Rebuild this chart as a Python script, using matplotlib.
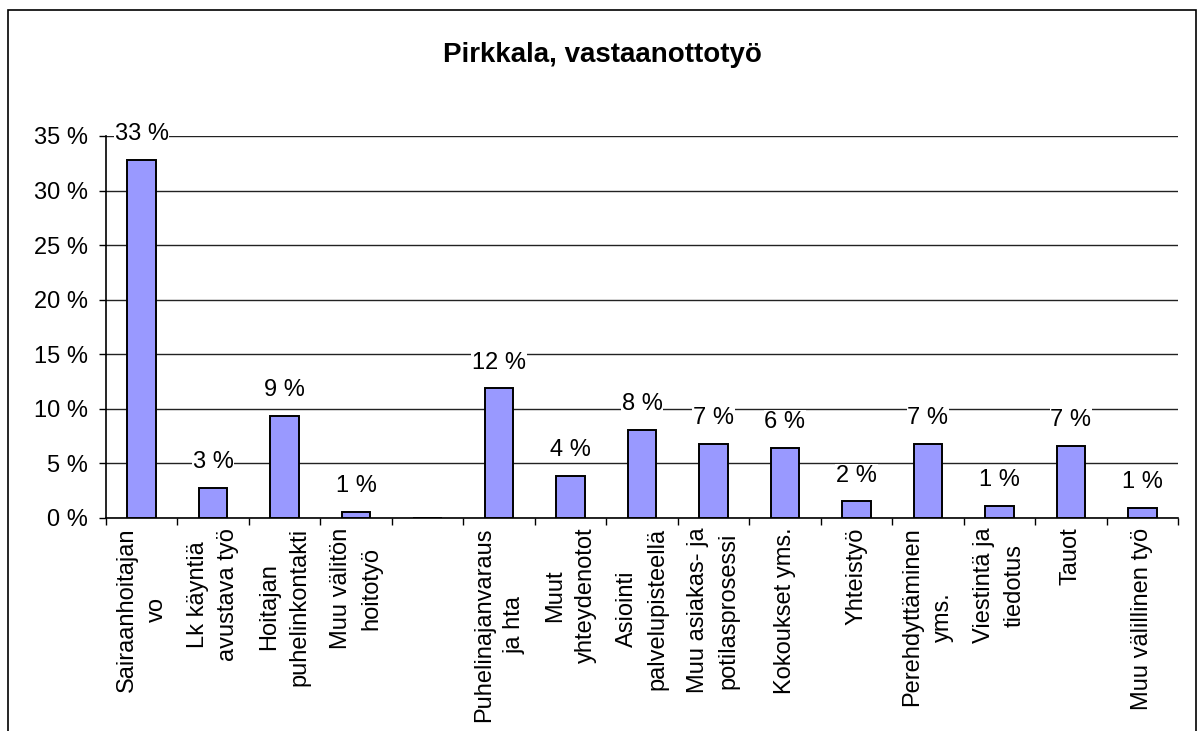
import numpy as np
import matplotlib
matplotlib.use("Agg")
import matplotlib.pyplot as plt
from matplotlib.patches import Rectangle

plt.rcParams['font.family'] = ['Liberation Sans', 'DejaVu Sans']

title = "Pirkkala, vastaanottotyö"
categories = ["Sairaanhoitajan\nvo", "Lk käyntiä\navustava työ", "Hoitajan\npuhelinkontakti",
              "Muu välitön\nhoitotyö", "", "Puhelinajanvaraus\nja hta", "Muut\nyhteydenotot",
              "Asiointi\npalvelupisteellä", "Muu asiakas- ja\npotilasprosessi", "Kokoukset yms.",
              "Yhteistyö", "Perehdyttäminen\nyms.", "Viestintä ja\ntiedotus", "Tauot",
              "Muu välillinen työ"]
values = [32.8, 2.75, 9.38, 0.55, np.nan, 11.9, 3.88, 8.1, 6.79, 6.45, 1.52, 6.79, 1.1, 6.63, 0.92]
yticks = [0, 5, 10, 15, 20, 25, 30, 35]

W, H = 1204, 731
fig = plt.figure(figsize=(W / 100, H / 100), dpi=100)
ax = fig.add_axes([106 / W, (H - 518) / H, (1178 - 106) / W, (518 - 136) / H])

x = np.arange(len(categories))
vals = np.array(values, dtype=float)
ax.bar(x, np.nan_to_num(vals), width=0.4, color='#9999FF', edgecolor='black', linewidth=1.4, zorder=3)

for xi, v in zip(x, vals):
    if np.isnan(v):
        continue
    ax.annotate(f"{v:.0f} %", (xi, v), xytext=(0, 10.5), textcoords='offset points',
                ha='center', va='bottom', fontsize=17, zorder=5,
                bbox=dict(facecolor='white', edgecolor='none', pad=0.5))

ax.set_xlim(-0.5, len(categories) - 0.5)
ax.set_ylim(0, 35)
ax.set_yticks(yticks)
ax.set_yticklabels([f"{t} %" for t in yticks], fontsize=17)
ax.yaxis.grid(True, color='#222222', linewidth=1, zorder=0)
ax.set_axisbelow(True)

ax.set_xticks(x)
ax.set_xticklabels(categories, rotation=90, fontsize=17, ha='center', va='top',
                   multialignment='center', linespacing=1.5)
ax.set_xticks(np.arange(len(categories) + 1) - 0.5, minor=True)
ax.tick_params(axis='x', which='major', length=0, pad=7)
ax.tick_params(axis='x', which='minor', length=5, width=1, direction='out')
ax.tick_params(axis='y', length=5, width=1, direction='out', pad=8)

for s in ['top', 'right']:
    ax.spines[s].set_visible(False)
for s in ['left', 'bottom']:
    ax.spines[s].set_linewidth(1.2)
    ax.spines[s].set_color('black')

fig.text(0.5, (H - 55) / H, title, ha='center', va='center', fontsize=20, fontweight='bold')

fig.patches.append(Rectangle((8 / W, -0.1), (1196 - 8) / W, (H - 10) / H + 0.1,
                             transform=fig.transFigure, fill=False, edgecolor='black',
                             linewidth=1.2, zorder=10))

fig.savefig("out.png", dpi=100)
